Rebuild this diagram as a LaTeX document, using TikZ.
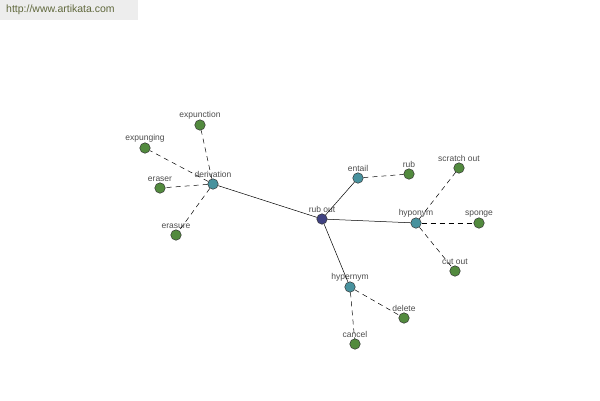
\documentclass[tikz,border=0pt]{standalone}
\usepackage{fontspec}
\setmainfont{Liberation Sans}
\usepackage{xcolor}
\definecolor{leafgreen}{RGB}{82,138,62}
\definecolor{hubteal}{RGB}{72,146,158}
\definecolor{rootblue}{RGB}{64,66,130}
\definecolor{urlgreen}{RGB}{96,104,60}

\begin{document}
\begin{tikzpicture}[x=1pt,y=-1pt,
    word/.style={circle,draw=black!80,line width=0.5pt,inner sep=0pt,minimum size=10.5pt},
    leaf/.style={word,fill=leafgreen},
    hub/.style={word,fill=hubteal},
    root/.style={word,fill=rootblue},
    lbl/.style={label={[text=black!70,font=\fontsize{8.5}{9}\selectfont,inner sep=0.5pt]above:#1}},
    link/.style={draw=black,line width=0.5pt},
    rel/.style={draw=black,line width=0.5pt,dash pattern=on 5pt off 4pt}]
            \useasboundingbox (0,0) rectangle (600,400);
            \fill[black!7] (0,0) rectangle (138,20);
            \node (url) at (6,10) [anchor=west,text=urlgreen,font=\fontsize{10.5}{11}\selectfont,inner sep=0pt] {http://www.artikata.com};

            \node (rubout) at (322,219) [root,lbl={rub out}] {};
            \node (derivation) at (213,184) [hub,lbl={derivation}] {};
            \node (entail) at (358,178) [hub,lbl={entail}] {};
            \node (hyponym) at (416,223) [hub,lbl={hyponym}] {};
            \node (hypernym) at (350,287) [hub,lbl={hypernym}] {};

            \node (expunction) at (200,125) [leaf,lbl={expunction}] {};
            \node (expunging) at (145,148) [leaf,lbl={expunging}] {};
            \node (eraser) at (160,188) [leaf,lbl={eraser}] {};
            \node (erasure) at (176,235) [leaf,lbl={erasure}] {};
            \node (rub) at (409,174) [leaf,lbl={rub}] {};
            \node (scratchout) at (459,168) [leaf,lbl={scratch out}] {};
            \node (sponge) at (479,223) [leaf,lbl={sponge}] {};
            \node (cutout) at (455,271) [leaf,lbl={cut out}] {};
            \node (delete) at (404,318) [leaf,lbl={delete}] {};
            \node (cancel) at (355,344) [leaf,lbl={cancel}] {};

            \foreach \h in {derivation,entail,hyponym,hypernym}
                \draw[link] (rubout) -- (\h);
            \foreach \l in {expunction,expunging,eraser,erasure}
                \draw[rel] (derivation) -- (\l);
            \draw[rel] (entail) -- (rub);
            \foreach \l in {scratchout,sponge,cutout}
                \draw[rel] (hyponym) -- (\l);
            \foreach \l in {delete,cancel}
                \draw[rel] (hypernym) -- (\l);

        \end{tikzpicture}
\end{document}
